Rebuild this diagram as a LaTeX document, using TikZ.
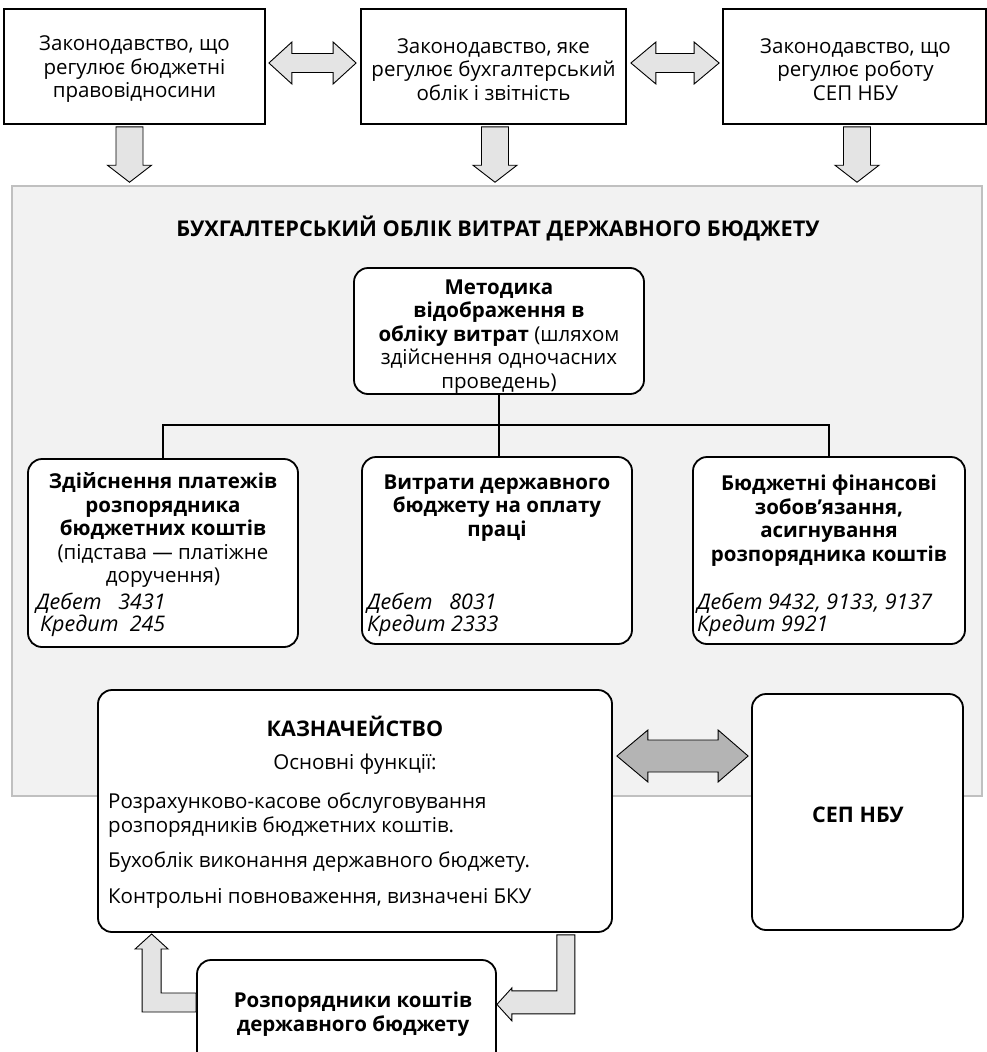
\documentclass[tikz,border=0pt]{standalone}
\usepackage{fontspec}
\setmainfont{Open Sans}
\usetikzlibrary{calc}
\definecolor{panelfill}{HTML}{F2F2F2}
\definecolor{paneldraw}{HTML}{C0C0C0}
\definecolor{lightarrow}{HTML}{E4E4E4}
\definecolor{darkarrow}{HTML}{B4B4B4}
\newcommand\fsz{\fontsize{20.5}{23.5}\selectfont}
\newcommand\fsh{\fontsize{21.5}{23.5}\selectfont}
\newcommand\fsi{\fontsize{21.5}{20}\selectfont}
\begin{document}
\begin{tikzpicture}[x=1pt,y=-1pt,
  sqbox/.style={draw, line width=1.8pt, fill=white, inner sep=0pt},
  rbox/.style={draw, line width=1.8pt, fill=white, rounded corners=14pt, inner sep=0pt, font=\fsz, align=center},
  blk/.style={draw=black, line width=0.9pt, fill=lightarrow, line join=miter},
  blkdark/.style={draw=black, line width=0.9pt, fill=darkarrow, line join=miter},
  conn/.style={line width=1.8pt},
  txt/.style={inner sep=0pt, font=\fsz, align=center},
  itxt/.style={inner sep=0pt, font=\fsi\itshape, align=left},
]
\useasboundingbox (0,0) rectangle (987,1052);
\fill[white] (0,0) rectangle (987,1052);
\clip (0,0) rectangle (987,1052);

% top boxes
\node[sqbox, minimum width=261pt, minimum height=115pt] (b1) at (134.5,66.5) {};
\node[txt] (t1) at (134.5,69.5) {Законодавство, що\\регулює бюджетні\\правовідносини};
\node[sqbox, minimum width=265pt, minimum height=115pt] (b2) at (493.5,66.5) {};
\node[txt] (t2) at (493.5,69.5) {Законодавство, яке\\регулює бухгалтерський\\облік і звітність};
\node[sqbox, minimum width=263pt, minimum height=115pt] (b3) at (854.5,66.5) {};
\node[txt] (t3) at (855.5,69.5) {Законодавство, що\\регулює роботу\\СЕП НБУ};

% panel
\node[draw=paneldraw, fill=panelfill, line width=1.5pt, inner sep=0pt,
      minimum width=970pt, minimum height=610pt] (panel) at (497,491) {};

% horizontal double arrows between top boxes
\draw[blk] let \p1=($(b1.east)+(3,-3.5)$), \p2=($(b2.west)+(-4,-3.5)$) in
  (\x1,\y1) -- ({\x1+23pt},{\y1+21pt}) -- ({\x1+23pt},{\y1+9.5pt}) -- ({\x2-23pt},{\y1+9.5pt})
  -- ({\x2-23pt},{\y1+21pt}) -- (\x2,\y1) -- ({\x2-23pt},{\y1-21pt}) -- ({\x2-23pt},{\y1-9.5pt})
  -- ({\x1+23pt},{\y1-9.5pt}) -- ({\x1+23pt},{\y1-21pt}) -- cycle;
\draw[blk] let \p1=($(b2.east)+(4,-3.5)$), \p2=($(b3.west)+(-3,-3.5)$) in
  (\x1,\y1) -- ({\x1+25pt},{\y1+21pt}) -- ({\x1+25pt},{\y1+9.5pt}) -- ({\x2-25pt},{\y1+9.5pt})
  -- ({\x2-25pt},{\y1+21pt}) -- (\x2,\y1) -- ({\x2-25pt},{\y1-21pt}) -- ({\x2-25pt},{\y1-9.5pt})
  -- ({\x1+25pt},{\y1-9.5pt}) -- ({\x1+25pt},{\y1-21pt}) -- cycle;

% down arrows into panel
\coordinate (d1) at ($(b1.south)+(-5,2)$);
\coordinate (d2) at ($(b2.south)+(1.5,2)$);
\coordinate (d3) at ($(b3.south)+(2.5,2)$);
\foreach \d in {d1,d2,d3}{
  \draw[blk] let \p1=(\d), \p2=(\d |- panel.north) in
    ({\x1-13.5pt},\y1) -- ({\x1-13.5pt},{\y2+20pt}) -- ({\x1-22pt},{\y2+20pt}) -- (\x1,{\y2+3pt})
    -- ({\x1+22pt},{\y2+20pt}) -- ({\x1+13.5pt},{\y2+20pt}) -- ({\x1+13.5pt},\y1) -- cycle;
}

% title
\node[txt, font=\fontsize{21.7}{23.5}\selectfont\bfseries] (title) at (498,228)
  {БУХГАЛТЕРСЬКИЙ ОБЛІК ВИТРАТ ДЕРЖАВНОГО БЮДЖЕТУ};

% method box
\node[rbox, minimum width=290pt, minimum height=126pt] (m) at (499,331) {};
\node[txt, anchor=north] (mt) at (499,279.5)
  {\textbf{Методика}\\\textbf{відображення в}\\\textbf{обліку витрат} (шляхом\\здійснення одночасних\\проведень)};

% three boxes
\node[rbox, minimum width=270pt, minimum height=188pt] (bA) at (163,553) {};
\node[rbox, minimum width=270pt, minimum height=187pt] (bB) at (497,550.5) {};
\node[rbox, minimum width=272pt, minimum height=187pt] (bC) at (829,550.5) {};

% connectors
\coordinate (j) at ($(m.south)+(0,30)$);
\draw[conn] (m.south) -- (j);
\draw[conn] (bA.north) |- (j) -| (bC.north);
\draw[conn] (j) -- (j |- bB.north);

\node[txt, anchor=north] (tA) at (163,472.5)
  {\textbf{Здійснення платежів}\\\textbf{розпорядника}\\\textbf{бюджетних коштів}\\(підстава — платіжне\\доручення)};
\node[itxt, anchor=north west] (iA) at (36,593) {Дебет~~~3431\\\hspace*{4pt}Кредит~~245};
\node[txt, anchor=north] (tB) at (497,474.5)
  {\textbf{Витрати державного}\\\textbf{бюджету на оплату}\\\textbf{праці}};
\node[itxt, anchor=north west] (iB) at (367,593) {Дебет~~~8031\\Кредит 2333};
\node[txt, anchor=north] (tC) at (829,475)
  {\textbf{Бюджетні фінансові}\\\textbf{зобов’язання,}\\\textbf{асигнування}\\\textbf{розпорядника коштів}};
\node[itxt, anchor=north west] (iC) at (697,593) {Дебет 9432, 9133, 9137\\Кредит 9921};

% treasury and SEP
\node[rbox, minimum width=514pt, minimum height=242pt] (T) at (355,811) {};
\node[txt, anchor=base, font=\fsh\bfseries] (kaz) at (355,736.5) {КАЗНАЧЕЙСТВО};
\node[txt, anchor=base] (osn) at (355,769) {Основні функції:};
\node[txt, anchor=north west, align=left] (fun) at (108,793)
  {Розрахунково-касове обслуговування\\розпорядників бюджетних коштів.\\[12pt]Бухоблік виконання державного бюджету.\\[12pt]Контрольні повноваження, визначені БКУ};

\node[rbox, minimum width=211pt, minimum height=236pt] (S) at (857.5,812) {};
\node[txt, font=\fsh\bfseries] (st) at (858,815) {СЕП НБУ};

\draw[blkdark] let \p1=($(T.east)+(4,-55)$), \p2=($(S.west)+(-3,-56)$) in
  (\x1,\y1) -- ({\x1+31pt},{\y1+26pt}) -- ({\x1+31pt},{\y1+16pt}) -- ({\x2-30pt},{\y1+16pt})
  -- ({\x2-30pt},{\y1+26pt}) -- (\x2,\y1) -- ({\x2-30pt},{\y1-26pt}) -- ({\x2-30pt},{\y1-16pt})
  -- ({\x1+31pt},{\y1-16pt}) -- ({\x1+31pt},{\y1-26pt}) -- cycle;

% bottom box
\node[rbox, minimum width=299pt, minimum height=111pt] (R) at (346.5,1015.5) {};
\node[txt, font=\fsz\bfseries] (rt) at (353,1014) {Розпорядники коштів\\державного бюджету};

% bent arrows
\draw[blk] ($(R.west)+(0,-22.5)$) -- ++(-35,0) -- ++(0,-44) -- ++(7,0) -- ++(-16.5,-15)
  -- ++(-16.5,15) -- ++(7,0) -- ++(0,63) -- ++(54,0) -- cycle;
\draw[blk] ($(T.south east)+(-56,2)$) -- ++(18,0) -- ++(0,79) -- ++(-63,0) -- ++(0,7)
  -- ++(-15,-16.5) -- ++(15,-16.5) -- ++(0,3) -- ++(45,0) -- ++(0,-56) -- cycle;
\end{tikzpicture}
\end{document}
